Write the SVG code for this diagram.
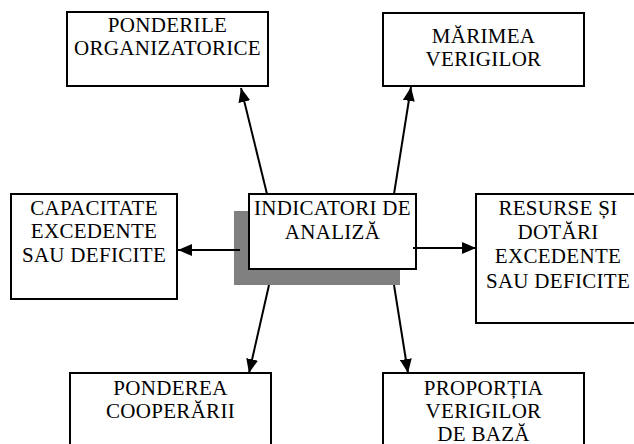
<svg xmlns="http://www.w3.org/2000/svg" width="634" height="444" viewBox="0 0 634 444">
  <style>
    .box { fill: #ffffff; stroke: #000000; stroke-width: 2; }
    .shadow { fill: #808080; stroke: none; }
    .lbl { font-family: 'Liberation Serif', 'Times New Roman', serif; font-size: 21px; letter-spacing: 0.3px; fill: #000000; text-anchor: middle; }
    .conn { stroke: #000000; stroke-width: 2; fill: none; marker-end: url(#arrow); }
  </style>
  <defs>
    <marker id="arrow" viewBox="0 0 14 12" refX="14" refY="6" markerWidth="14" markerHeight="12" markerUnits="userSpaceOnUse" orient="auto">
      <path d="M0,0 L14,6 L0,12 z" fill="#000000"/>
    </marker>
  </defs>
  <rect width="634" height="444" fill="#ffffff"/>

  <g id="node-ponderile">
    <rect class="box" x="67" y="12" width="201" height="74"/>
    <text class="lbl" x="167.5" y="32">PONDERILE</text>
    <text class="lbl" x="167.5" y="55">ORGANIZATORICE</text>
  </g>

  <g id="node-marimea">
    <rect class="box" x="383" y="13" width="201" height="73"/>
    <text class="lbl" x="483.5" y="43">MĂRIMEA</text>
    <text class="lbl" x="483.5" y="66">VERIGILOR</text>
  </g>

  <g id="node-capacitate">
    <rect class="box" x="11" y="194" width="166" height="105"/>
    <text class="lbl" x="94" y="215">CAPACITATE</text>
    <text class="lbl" x="94" y="238">EXCEDENTE</text>
    <text class="lbl" x="94" y="262">SAU DEFICITE</text>
  </g>

  <g id="node-indicatori">
    <rect class="shadow" x="234" y="211" width="166" height="74"/>
    <rect class="box" x="249" y="194" width="167" height="75"/>
    <text class="lbl" x="332.5" y="215">INDICATORI DE</text>
    <text class="lbl" x="332.5" y="239">ANALIZĂ</text>
  </g>

  <g id="node-resurse">
    <rect class="box" x="476" y="194" width="170" height="129"/>
    <text class="lbl" x="558" y="215">RESURSE ȘI</text>
    <text class="lbl" x="558" y="239">DOTĂRI</text>
    <text class="lbl" x="558" y="263">EXCEDENTE</text>
    <text class="lbl" x="558" y="288">SAU DEFICITE</text>
  </g>

  <g id="node-ponderea">
    <rect class="box" x="70" y="373" width="201" height="80"/>
    <text class="lbl" x="170.5" y="395">PONDEREA</text>
    <text class="lbl" x="170.5" y="418">COOPERĂRII</text>
  </g>

  <g id="node-proportia">
    <rect class="box" x="383" y="373" width="201" height="80"/>
    <text class="lbl" x="483.5" y="395">PROPORȚIA</text>
    <text class="lbl" x="483.5" y="418">VERIGILOR</text>
    <text class="lbl" x="483.5" y="441">DE BAZĂ</text>
  </g>

  <g id="connectors">
    <line class="conn" x1="267" y1="194" x2="241" y2="88"/>
    <line class="conn" x1="394" y1="194" x2="411" y2="87"/>
    <line class="conn" x1="240" y1="250" x2="178" y2="250"/>
    <line class="conn" x1="413" y1="248" x2="476" y2="248"/>
    <line class="conn" x1="269" y1="285" x2="249" y2="373"/>
    <line class="conn" x1="394" y1="285" x2="408" y2="373"/>
  </g>
</svg>
